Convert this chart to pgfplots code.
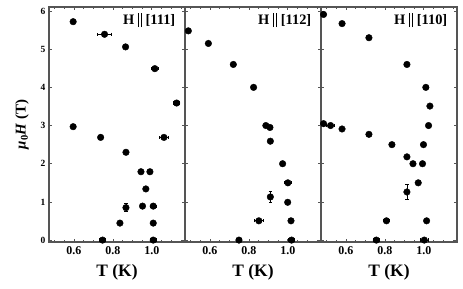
\documentclass[border=0pt]{standalone}
\usepackage{fontspec}
\setmainfont{Liberation Serif}
\usepackage{pgfplots}
\pgfplotsset{compat=1.18}
\definecolor{frame}{HTML}{555555}
\pgfplotsset{
  panel/.style={
    width=136bp, height=235bp, scale only axis,
    xmin=0.472, xmax=1.17, ymin=-0.05, ymax=6.105,
    xtick={0.6,0.8,1.0},
    minor xtick={0.5,0.55,0.65,0.7,0.75,0.85,0.9,0.95,1.05,1.1,1.15},
    ytick={0,1,2,3,4,5,6},
    tick align=inside,
    major tick length=3bp, minor tick length=2bp,
    tick style={frame, line width=0.8bp},
    axis line style={frame, line width=1.3bp},
    /pgf/number format/assume math mode=true,
    xticklabel style={font=\bfseries\fontsize{12}{12}\selectfont, yshift=-1bp,
      /pgf/number format/fixed, /pgf/number format/fixed zerofill, /pgf/number format/precision=1},
    yticklabel style={font=\bfseries\fontsize{9.5}{10}\selectfont},
    xlabel={T (K)},
    xlabel style={font=\bfseries\fontsize{17.5}{18}\selectfont, yshift=-3bp},
    clip=false,
    error bars/y dir=both, error bars/y explicit,
    error bars/x dir=both, error bars/x explicit,
    error bars/error bar style={black, line width=0.8bp},
    error bars/error mark options={rotate=90, mark size=1.6bp, black, line width=0.8bp},
  },
  pts/.style={only marks, mark=*, mark size=3.3bp, mark options={black, fill=black}},
}
\newcommand{\bars}{\rule[-2.5bp]{1.4bp}{14bp}\hspace{1.3bp}\rule[-2.5bp]{1.4bp}{14bp}}
\newcommand{\ttl}[1]{\bfseries\fontsize{14.5}{15}\selectfont H \bars{} [#1]}
\begin{document}
\begin{tikzpicture}
\path[use as bounding box] (0,0) rectangle (463bp,289bp);
% Panel 1
\begin{axis}[panel, at={(49bp,47bp)}, anchor=south west,
  ylabel={{\itshape μ}\textsubscript{0}{\itshape H} (T)},
  ylabel style={font=\bfseries\fontsize{15}{16}\selectfont, yshift=5bp}]
\addplot[pts] coordinates {
 (0.596,5.72) +- (0.005,0)
 (0.757,5.39) +- (0.035,0)
 (0.865,5.06) +- (0,0)
 (1.015,4.49) +- (0.018,0)
 (1.127,3.59) +- (0.015,0)
 (0.596,2.97) +- (0.006,0)
 (0.737,2.69) +- (0,0)
 (1.062,2.69) +- (0.022,0)
 (0.867,2.30) +- (0,0)
 (0.944,1.79) +- (0,0)
 (0.990,1.79) +- (0,0)
 (0.969,1.34) +- (0,0)
 (0.952,0.89) +- (0.012,0)
 (1.007,0.89) +- (0.014,0)
 (0.867,0.85) +- (0,0.1)
 (0.836,0.445) +- (0.01,0)
 (1.007,0.445) +- (0.01,0)
 (0.747,0) +- (0.014,0)
 (1.007,0) +- (0.014,0)
};
\node[anchor=north east, inner sep=0pt] at (rel axis cs:0.93,0.975) {\ttl{111}};
\end{axis}
% Panel 2
\begin{axis}[panel, at={(185bp,47bp)}, anchor=south west, yticklabels={}]
\addplot[pts] coordinates {
 (0.489,5.48) +- (0,0)
 (0.592,5.15) +- (0,0)
 (0.720,4.60) +- (0.008,0)
 (0.824,4.00) +- (0,0)
 (0.887,3.00) +- (0,0)
 (0.908,2.95) +- (0,0)
 (0.910,2.59) +- (0,0)
 (0.973,2.00) +- (0,0)
 (1.000,1.50) +- (0.02,0)
 (0.910,1.13) +- (0,0.15)
 (0.999,0.99) +- (0.01,0)
 (0.851,0.505) +- (0.025,0)
 (1.016,0.505) +- (0,0)
 (0.749,0) +- (0.015,0)
 (1.019,0) +- (0.015,0)
};
\node[anchor=north east, inner sep=0pt] at (rel axis cs:0.93,0.975) {\ttl{112}};
\end{axis}
% Panel 3
\begin{axis}[panel, at={(321bp,47bp)}, anchor=south west, yticklabels={}]
\addplot[pts] coordinates {
 (0.485,5.91) +- (0,0)
 (0.580,5.67) +- (0,0)
 (0.718,5.30) +- (0,0)
 (0.913,4.60) +- (0,0)
 (1.010,4.00) +- (0.015,0)
 (1.031,3.51) +- (0,0)
 (1.024,3.00) +- (0,0)
 (0.485,3.05) +- (0.008,0)
 (0.521,3.00) +- (0.02,0)
 (0.580,2.91) +- (0,0)
 (0.718,2.77) +- (0,0)
 (0.836,2.50) +- (0,0)
 (0.998,2.50) +- (0.012,0)
 (0.913,2.18) +- (0,0)
 (0.944,2.00) +- (0,0)
 (0.993,2.00) +- (0,0)
 (0.971,1.50) +- (0,0)
 (0.913,1.26) +- (0,0.19)
 (0.808,0.505) +- (0.015,0)
 (1.014,0.505) +- (0.01,0)
 (0.756,0) +- (0.015,0)
 (1.002,0) +- (0.02,0)
};
\node[anchor=north east, inner sep=0pt] at (rel axis cs:0.93,0.975) {\ttl{110}};
\end{axis}
\end{tikzpicture}
\end{document}
